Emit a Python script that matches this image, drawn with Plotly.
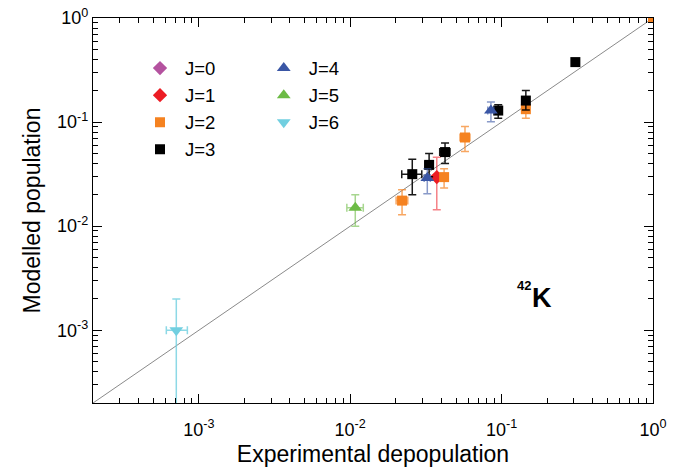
import plotly.graph_objects as go
import numpy as np

# ---------------- data ----------------
# J=0 : no visible data points (legend only)
j0_x, j0_y = [None], [None]

j1_x = [0.0373]
j1_y = [0.0296]
j1_yp = [0.0164]
j1_ym = [0.0152]
j1_xp = [0.0]
j1_xm = [0.0]

j2_x = [0.022, 0.0417, 0.0573, 0.1446, 1.0]
j2_y = [0.0176, 0.0296, 0.0711, 0.133, 1.0]
j2_yp = [0.0048, 0.0060, 0.0197, 0.025, 0.0]
j2_ym = [0.0047, 0.0064, 0.0190, 0.024, 0.0]
j2_xp = [0.0020, 0.0020, 0.0045, 0.005, 0.0]
j2_xm = [0.0019, 0.0020, 0.0042, 0.005, 0.0]

j3_x = [0.0257, 0.0332, 0.0423, 0.095, 0.1446, 0.307]
j3_y = [0.0316, 0.0388, 0.0515, 0.129, 0.161, 0.377]
j3_yp = [0.0124, 0.0112, 0.0113, 0.018, 0.040, 0.020]
j3_ym = [0.0116, 0.0090, 0.0115, 0.020, 0.030, 0.020]
j3_xp = [0.0040, 0.0020, 0.0033, 0.004, 0.005, 0.010]
j3_xm = [0.0038, 0.0020, 0.0033, 0.004, 0.005, 0.010]

j4_x = [0.0323, 0.085]
j4_y = [0.029, 0.129]
j4_yp = [0.0066, 0.027]
j4_ym = [0.0085, 0.028]
j4_xp = [0.0015, 0.004]
j4_xm = [0.0015, 0.004]

j5_x = [0.0108]
j5_y = [0.015]
j5_yp = [0.005]
j5_ym = [0.005]
j5_xp = [0.0014]
j5_xm = [0.0013]

j6_x = [0.00071]
j6_y = [0.001]
j6_yp = [0.001]
j6_ym = [0.00097]
j6_xp = [0.00013]
j6_xm = [0.00010]

axis_min, axis_max = 2e-4, 1.0
major_vals = [1e-3, 1e-2, 1e-1, 1.0]
major_text = ["10<sup>-3</sup>", "10<sup>-2</sup>", "10<sup>-1</sup>", "10<sup>0</sup>"]
minor_vals = [k * 10.0 ** e for e in range(-4, 0) for k in range(2, 10)]

FONT = "Liberation Sans, Arial, Helvetica, sans-serif"

fig = go.Figure()

# y = x reference line
fig.add_trace(go.Scatter(x=[axis_min, axis_max], y=[axis_min, axis_max], mode="lines",
                         line=dict(color="#8a8a8a", width=1), showlegend=False,
                         hoverinfo="skip"))

series = [
    ("J=0", j0_x, j0_y, [0], [0], [0], [0], "diamond", "#b4529f", "rgba(180,82,159,0.6)", 11, "legend"),
    ("J=1", j1_x, j1_y, j1_yp, j1_ym, j1_xp, j1_xm, "diamond", "#ec1c24", "rgba(236,28,36,0.55)", 11, "legend"),
    ("J=2", j2_x, j2_y, j2_yp, j2_ym, j2_xp, j2_xm, "square", "#f58220", "rgba(245,130,32,0.7)", 10, "legend"),
    ("J=3", j3_x, j3_y, j3_yp, j3_ym, j3_xp, j3_xm, "square", "#000000", "rgba(0,0,0,0.9)", 10, "legend"),
    ("J=4", j4_x, j4_y, j4_yp, j4_ym, j4_xp, j4_xm, "triangle-up", "#3a56a5", "rgba(58,86,165,0.6)", 12, "legend2"),
    ("J=5", j5_x, j5_y, j5_yp, j5_ym, j5_xp, j5_xm, "triangle-up", "#6cbb45", "rgba(108,187,69,0.6)", 12, "legend2"),
    ("J=6", j6_x, j6_y, j6_yp, j6_ym, j6_xp, j6_xm, "triangle-down", "#71cfe0", "rgba(113,207,224,0.8)", 12, "legend2"),
]

for name, x, y, yp, ym, xp, xm, sym, col, ecol, size, leg in series:
    fig.add_trace(go.Scatter(
        x=x, y=y, mode="markers", name=name, legend=leg, showlegend=True,
        marker=dict(symbol=sym, color=col, size=size, line=dict(width=0)),
        error_y=dict(type="data", symmetric=False, array=yp, arrayminus=ym,
                     color=ecol, thickness=1.5, width=4),
        error_x=dict(type="data", symmetric=False, array=xp, arrayminus=xm,
                     color=ecol, thickness=1.5, width=4),
    ))

axis_common = dict(
    type="log",
    range=[np.log10(axis_min), np.log10(axis_max)],
    showgrid=False, zeroline=False,
    showline=True, linecolor="black", linewidth=1.2, mirror="allticks",
    ticks="inside", ticklen=9, tickwidth=1, tickcolor="black",
    tickmode="array", tickvals=major_vals, ticktext=major_text,
    tickfont=dict(family=FONT, size=18, color="black"),
    ticklabeloverflow="allow",
    minor=dict(ticks="inside", ticklen=5, tickwidth=1, tickcolor="black",
               tickmode="array", tickvals=minor_vals, showgrid=False),
)

fig.update_xaxes(**axis_common, ticklabelstandoff=10,
                 title=dict(text="Experimental depopulation", standoff=7,
                            font=dict(family=FONT, size=23, color="black")))
fig.update_yaxes(**axis_common,
                 title=dict(text="Modelled population", standoff=10,
                            font=dict(family=FONT, size=23, color="black")))

legend_common = dict(font=dict(family=FONT, size=18.5, color="black"),
                     bgcolor="rgba(0,0,0,0)", borderwidth=0,
                     xanchor="left", yanchor="top", itemwidth=40,
                     tracegroupgap=0)
fig.update_layout(
    legend=dict(x=0.075, y=0.918, **legend_common),
    legend2=dict(x=0.296, y=0.918, **legend_common),
)

fig.add_annotation(text="<b>K</b>", xref="paper", yref="paper", x=0.801, y=0.272,
                   showarrow=False, font=dict(family=FONT, size=27, color="black"),
                   xanchor="center", yanchor="middle")
fig.add_annotation(text="<b>42</b>", xref="paper", yref="paper", x=0.769, y=0.304,
                   showarrow=False, font=dict(family=FONT, size=13, color="black"),
                   xanchor="center", yanchor="middle")

fig.update_layout(
    width=696, height=469,
    margin=dict(l=93, r=43, t=18, b=66, autoexpand=False),
    paper_bgcolor="white", plot_bgcolor="white",
    font=dict(family=FONT, color="black"),
)

fig.write_html("out.html", config={"displayModeBar": False},
               post_script="document.body.style.margin='0px';")
